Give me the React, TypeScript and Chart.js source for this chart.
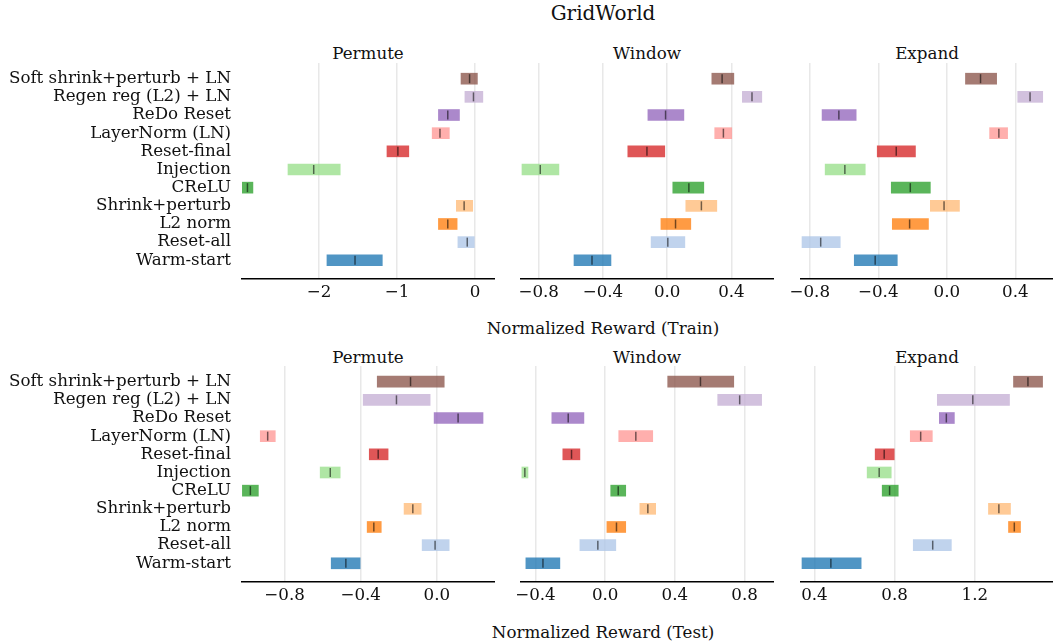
import React, { useEffect, useRef } from 'react';
import { Chart, registerables } from 'chart.js';

Chart.register(...registerables);

// Methods, listed top to bottom
const methods = [
  'Soft shrink+perturb + LN',
  'Regen reg (L2) + LN',
  'ReDo Reset',
  'LayerNorm (LN)',
  'Reset-final',
  'Injection',
  'CReLU',
  'Shrink+perturb',
  'L2 norm',
  'Reset-all',
  'Warm-start',
];

const methodColors = [
  '#8c564b', '#c5b0d5', '#9467bd', '#ff9896', '#d62728', '#98df8a',
  '#2ca02c', '#ffbb78', '#ff7f0e', '#aec7e8', '#1f77b4',
];

// Train: Permute
const permuteTrainLow = [-0.18, -0.13, -0.47, -0.55, -1.13, -2.4, -2.99, -0.24, -0.47, -0.22, -1.9];
const permuteTrainHigh = [0.03, 0.1, -0.2, -0.33, -0.85, -1.73, -2.85, -0.03, -0.23, 0.0, -1.19];
const permuteTrainMedian = [-0.07, -0.02, -0.35, -0.45, -0.99, -2.07, -2.92, -0.14, -0.35, -0.1, -1.54];

// Train: Window
const windowTrainLow = [0.278, 0.468, -0.12, 0.296, -0.245, -0.904, 0.035, 0.116, -0.039, -0.1, -0.58];
const windowTrainHigh = [0.415, 0.589, 0.104, 0.402, -0.015, -0.674, 0.228, 0.309, 0.147, 0.11, -0.35];
const windowTrainMedian = [0.342, 0.528, -0.01, 0.35, -0.126, -0.79, 0.135, 0.213, 0.052, 0.004, -0.468];

// Train: Expand
const expandTrainLow = [0.109, 0.414, -0.728, 0.25, -0.406, -0.71, -0.324, -0.096, -0.318, -0.845, -0.54];
const expandTrainHigh = [0.291, 0.56, -0.529, 0.355, -0.183, -0.476, -0.096, 0.074, -0.107, -0.622, -0.289];
const expandTrainMedian = [0.197, 0.486, -0.63, 0.304, -0.295, -0.595, -0.213, -0.016, -0.217, -0.736, -0.418];

// Test: Permute
const permuteTestLow = [-0.313, -0.387, -0.014, -0.928, -0.355, -0.613, -1.022, -0.172, -0.366, -0.077, -0.555];
const permuteTestHigh = [0.039, -0.035, 0.243, -0.849, -0.256, -0.508, -0.938, -0.082, -0.292, 0.065, -0.403];
const permuteTestMedian = [-0.138, -0.212, 0.112, -0.889, -0.308, -0.56, -0.98, -0.126, -0.331, -0.009, -0.478];

// Test: Window
const windowTestLow = [0.359, 0.646, -0.306, 0.078, -0.243, -0.478, 0.032, 0.199, 0.01, -0.145, -0.455];
const windowTestHigh = [0.738, 0.898, -0.122, 0.273, -0.145, -0.443, 0.118, 0.29, 0.118, 0.061, -0.26];
const windowTestMedian = [0.547, 0.772, -0.212, 0.176, -0.193, -0.461, 0.075, 0.245, 0.065, -0.042, -0.357];

// Test: Expand
const expandTestLow = [1.393, 1.013, 1.023, 0.878, 0.703, 0.663, 0.738, 1.268, 1.368, 0.893, 0.338];
const expandTestHigh = [1.538, 1.373, 1.098, 0.988, 0.798, 0.783, 0.818, 1.378, 1.428, 1.083, 0.633];
const expandTestMedian = [1.465, 1.19, 1.058, 0.93, 0.748, 0.723, 0.775, 1.32, 1.397, 0.99, 0.482];

// Tick values per panel
const permuteTrainTicks = [-2, -1, 0];
const windowTrainTicks = [-0.8, -0.4, 0, 0.4];
const expandTrainTicks = [-0.8, -0.4, 0, 0.4];
const permuteTestTicks = [-0.8, -0.4, 0];
const windowTestTicks = [-0.4, 0, 0.4, 0.8];
const expandTestTicks = [0.4, 0.8, 1.2];

const FONT_FAMILY = "'DejaVu Serif', 'Liberation Serif', serif";
const TEXT_COLOR = '#111';

function withAlpha(hex: string, a: number) {
  const n = parseInt(hex.slice(1), 16);
  return `rgba(${(n >> 16) & 255}, ${(n >> 8) & 255}, ${n & 255}, ${a})`;
}

function formatTick(v: number, decimals: number) {
  const s = Math.abs(v).toFixed(decimals);
  return (v < -1e-9 ? '\u2212' : '') + s;
}

type PanelSpec = {
  left: number;
  top: number;
  width: number;
  padLeft: number;
  showLabels: boolean;
  min: number;
  max: number;
  ticks: number[];
  decimals: number;
  low: number[];
  high: number[];
  median: number[];
};

const PLOT_HEIGHT = 216;
const XAXIS_HEIGHT = 30;
const LABEL_WIDTH = 242;

function Panel({ spec }: { spec: PanelSpec }) {
  const canvasRef = useRef<HTMLCanvasElement | null>(null);

  useEffect(() => {
    const font = { family: FONT_FAMILY, size: 16.7 };
    const chart = new Chart(canvasRef.current as HTMLCanvasElement, {
      type: 'bar',
      data: {
        datasets: [
          {
            type: 'scatter',
            data: spec.median.map((m, i) => ({ x: m, y: i })),
            pointStyle: 'line',
            pointRotation: 90,
            pointRadius: 4.5,
            pointHoverRadius: 4.5,
            pointBorderColor: 'rgba(0, 0, 0, 0.55)',
            pointBorderWidth: 1.5,
            order: 1,
          } as any,
          {
            type: 'bar',
            data: spec.low.map((lo, i) => ({ x: [lo, spec.high[i]], y: i })),
            backgroundColor: methodColors.map((c) => withAlpha(c, 0.78)),
            borderWidth: 0,
            barThickness: 11,
            order: 2,
          } as any,
        ],
      },
      options: {
        indexAxis: 'y',
        animation: false,
        responsive: false,
        events: [],
        layout: { padding: { left: spec.padLeft, right: 0, top: 0, bottom: 0 }, autoPadding: false },
        plugins: {
          legend: { display: false },
          tooltip: { enabled: false },
        },
        scales: {
          x: {
            type: 'linear',
            offset: false,
            min: spec.min,
            max: spec.max,
            afterBuildTicks: (s: any) => {
              s.ticks = spec.ticks.map((v) => ({ value: v }));
            },
            afterFit: (s: any) => {
              s.height = XAXIS_HEIGHT;
              s.paddingLeft = 0;
              s.paddingRight = 0;
            },
            grid: { color: '#e8e8e8', lineWidth: 1.5, drawTicks: false, offset: false },
            border: { display: true, color: '#000', width: 1.5 },
            ticks: {
              callback: (v: any) => formatTick(Number(v), spec.decimals),
              font,
              color: TEXT_COLOR,
              padding: 4,
              maxRotation: 0,
              autoSkip: false,
            },
          },
          y: {
            type: 'linear',
            offset: false,
            reverse: true,
            min: -0.864,
            max: 11.03,
            display: spec.showLabels,
            afterBuildTicks: (s: any) => {
              s.ticks = methods.map((_, i) => ({ value: i }));
            },
            afterFit: (s: any) => {
              if (spec.showLabels) s.width = LABEL_WIDTH;
              s.paddingTop = 0;
              s.paddingBottom = 0;
            },
            grid: { display: false, drawTicks: false, offset: false },
            border: { display: false },
            ticks: {
              callback: (v: any) => methods[Number(v)] ?? '',
              font,
              color: TEXT_COLOR,
              padding: 11,
              autoSkip: false,
            },
          },
        },
      } as any,
    });
    return () => chart.destroy();
  }, [spec]);

  const h = PLOT_HEIGHT + XAXIS_HEIGHT;
  return (
    <canvas
      ref={canvasRef}
      width={spec.width}
      height={h}
      style={{ position: 'absolute', left: spec.left, top: spec.top, width: spec.width, height: h }}
    />
  );
}

const TOP_ROW = 63;
const BOTTOM_ROW = 366;

const panels: PanelSpec[] = [
  { left: 0, top: TOP_ROW, width: 495, padLeft: 0, showLabels: true, min: -2.99, max: 0.256, ticks: permuteTrainTicks, decimals: 0, low: permuteTrainLow, high: permuteTrainHigh, median: permuteTrainMedian },
  { left: 506, top: TOP_ROW, width: 268, padLeft: 15, showLabels: false, min: -0.91, max: 0.665, ticks: windowTrainTicks, decimals: 1, low: windowTrainLow, high: windowTrainHigh, median: windowTrainMedian },
  { left: 781, top: TOP_ROW, width: 272, padLeft: 20, showLabels: false, min: -0.851, max: 0.62, ticks: expandTrainTicks, decimals: 1, low: expandTrainLow, high: expandTrainHigh, median: expandTrainMedian },
  { left: 0, top: BOTTOM_ROW, width: 495, padLeft: 0, showLabels: true, min: -1.024, max: 0.306, ticks: permuteTestTicks, decimals: 1, low: permuteTestLow, high: permuteTestHigh, median: permuteTestMedian },
  { left: 506, top: BOTTOM_ROW, width: 268, padLeft: 15, showLabels: false, min: -0.483, max: 0.969, ticks: windowTestTicks, decimals: 1, low: windowTestLow, high: windowTestHigh, median: windowTestMedian },
  { left: 781, top: BOTTOM_ROW, width: 272, padLeft: 20, showLabels: false, min: 0.333, max: 1.59, ticks: expandTestTicks, decimals: 1, low: expandTestLow, high: expandTestHigh, median: expandTestMedian },
];

function Label({ text, cx, cy, size }: { text: string; cx: number; cy: number; size: number }) {
  return (
    <div
      style={{
        position: 'absolute',
        left: cx,
        top: cy,
        transform: 'translate(-50%, -50%)',
        fontFamily: FONT_FAMILY,
        fontSize: size,
        lineHeight: 1.2,
        color: TEXT_COLOR,
        whiteSpace: 'nowrap',
      }}
    >
      {text}
    </div>
  );
}

export default function App() {
  return (
    <div style={{ position: 'fixed', left: 0, top: 0, width: 1053, height: 642, background: '#fff', overflow: 'hidden' }}>
      <Label text="GridWorld" cx={603} cy={13} size={20} />
      <Label text="Permute" cx={368} cy={53} size={16.7} />
      <Label text="Window" cx={647} cy={53} size={16.7} />
      <Label text="Expand" cx={927} cy={53} size={16.7} />
      <Label text="Normalized Reward (Train)" cx={603} cy={328} size={16.7} />
      <Label text="Permute" cx={368} cy={357} size={16.7} />
      <Label text="Window" cx={647} cy={357} size={16.7} />
      <Label text="Expand" cx={927} cy={357} size={16.7} />
      <Label text="Normalized Reward (Test)" cx={603} cy={632} size={16.7} />
      {panels.map((p, i) => (
        <Panel key={i} spec={p} />
      ))}
    </div>
  );
}
